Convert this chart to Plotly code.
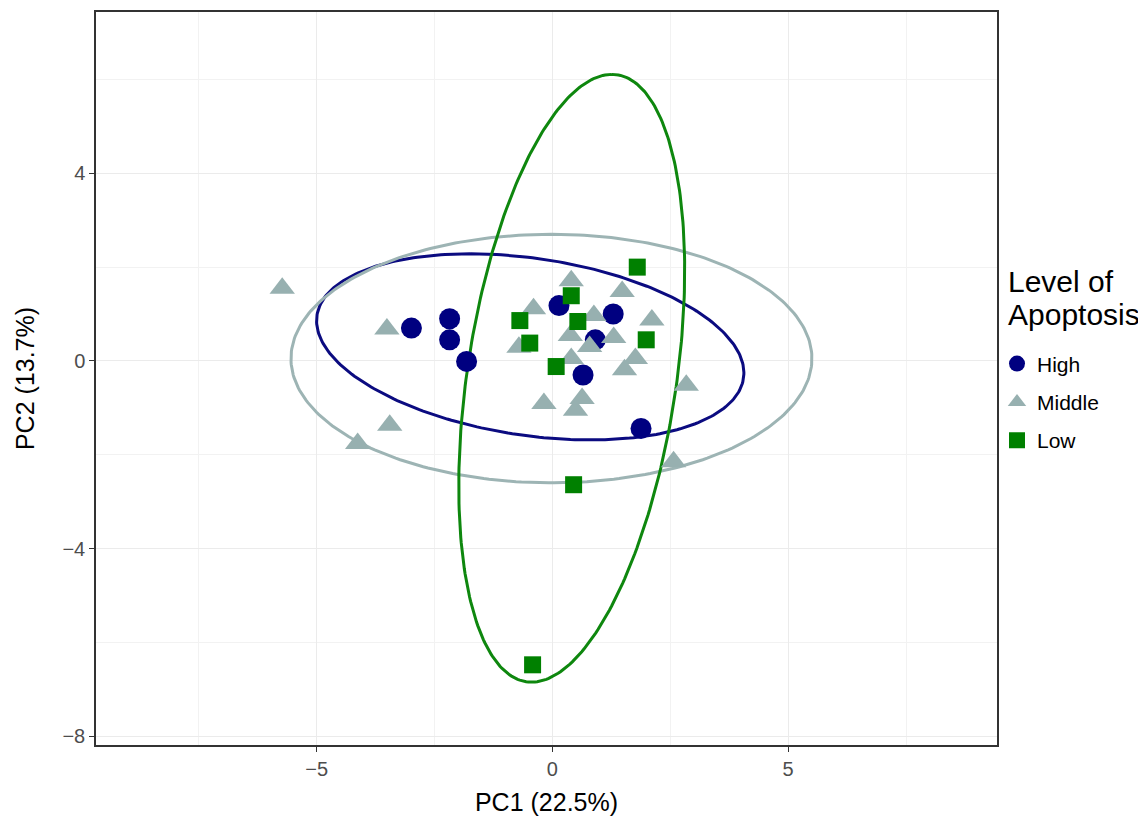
import numpy as np
import plotly.graph_objects as go

# ---- data ----
groups = ["High", "Middle", "Low"]

high_x = [-2.99, -2.18, -2.18, -1.82, 0.14, 1.29, 0.91, 0.65, 1.88]
high_y = [0.70, 0.90, 0.45, -0.01, 1.18, 1.00, 0.45, -0.30, -1.44]

middle_x = [-5.73, -3.51, -3.45, -4.13, 0.40, 1.48, -0.40, 0.88, 2.11, 0.38, 1.30,
            -0.71, 0.79, 0.40, 1.76, 1.53, 2.84, -0.18, 0.63, 0.49, 2.57]
middle_y = [1.55, 0.68, -1.37, -1.76, 1.71, 1.48, 1.11, 0.97, 0.87, 0.54, 0.50,
            0.29, 0.31, 0.05, 0.05, -0.19, -0.52, -0.91, -0.80, -1.05, -2.15]

low_x = [1.80, 0.40, -0.69, 0.54, -0.48, 1.99, 0.08, 0.45, -0.42]
low_y = [2.00, 1.39, 0.86, 0.84, 0.38, 0.45, -0.12, -2.64, -6.48]

# ellipse parameters (center, conjugate semi-diameters)
ell_high_center = [-0.47, 0.30]
ell_high_u = [-1.27, 1.985]
ell_high_v = [4.35, 0.0]

ell_mid_center = [-0.02, 0.05]
ell_mid_u = [0.0, 2.65]
ell_mid_v = [5.525, 0.0]

ell_low_center = [0.41, -0.37]
ell_low_u = [0.85, 6.48]
ell_low_v = [2.24, 0.0]

x_ticks = [-5, 0, 5]
y_ticks = [-8, -4, 0, 4]

legend_title_lines = ["Level of", "Apoptosis"]

colors = {"High": "#000080", "Middle": "#97B0B0", "Low": "#008000"}
ell_colors = {"High": "#0B0B80", "Middle": "#9DB4B4", "Low": "#0E870E"}
symbols = {"High": "circle", "Middle": "triangle-up", "Low": "square"}
sizes = {"High": 21, "Middle": 22, "Low": 17}

FONT = "Liberation Sans, Arial, sans-serif"


def ellipse(center, u, v, n=300):
    t = np.linspace(0, 2 * np.pi, n)
    c = np.array(center)
    uu = np.array(u)
    vv = np.array(v)
    pts = c[:, None] + uu[:, None] * np.cos(t) + vv[:, None] * np.sin(t)
    return pts[0], pts[1]


fig = go.Figure()

ells = {
    "High": (ell_high_center, ell_high_u, ell_high_v),
    "Middle": (ell_mid_center, ell_mid_u, ell_mid_v),
    "Low": (ell_low_center, ell_low_u, ell_low_v),
}
for g in groups:
    ex, ey = ellipse(*ells[g])
    fig.add_trace(go.Scatter(x=ex, y=ey, mode="lines",
                             line=dict(color=ell_colors[g], width=3),
                             showlegend=False, hoverinfo="skip"))

pts = {"High": (high_x, high_y), "Middle": (middle_x, middle_y), "Low": (low_x, low_y)}
for g in groups:
    px, py = pts[g]
    fig.add_trace(go.Scatter(x=px, y=py, mode="markers", name=g, legendgroup=g,
                             marker=dict(symbol=symbols[g], size=sizes[g],
                                         color=colors[g], line=dict(width=0))))

axis_common = dict(
    showline=True, mirror=True, linecolor="#333333", linewidth=1.5,
    ticks="outside", ticklen=5, tickcolor="#333333", tickwidth=1.2,
    showgrid=True, gridcolor="#EBEBEB", gridwidth=1.2,
    zeroline=False,
    tickfont=dict(family=FONT, size=20, color="#4D4D4D"),
)

fig.update_xaxes(
    range=[-9.68, 9.43], tickvals=x_ticks,
    minor=dict(dtick=2.5, tick0=0, showgrid=True, gridcolor="#F2F2F2", gridwidth=0.8, ticks=""),
    title=dict(text="PC1 (22.5%)", font=dict(family=FONT, size=25, color="#000000"), standoff=15),
    **axis_common,
)
fig.update_yaxes(
    range=[-8.19, 7.44], tickvals=y_ticks,
    minor=dict(dtick=2, tick0=0, showgrid=True, gridcolor="#F2F2F2", gridwidth=0.8, ticks=""),
    title=dict(text="PC2 (13.7%)", font=dict(family=FONT, size=25, color="#000000"), standoff=21),
    **axis_common,
)

# legend title drawn as two text lines (tighter line spacing like the reference)
title_y = [1 - (272 - 2) / 735, 1 - (305 - 2) / 735]
for line, yy in zip(legend_title_lines, title_y):
    fig.add_annotation(text=line, xref="paper", yref="paper", x=1.010, y=yy,
                       xanchor="left", yanchor="middle", showarrow=False,
                       font=dict(family=FONT, size=30, color="#000000"))

fig.update_layout(
    width=1138, height=812,
    margin=dict(l=88, r=149, t=2, b=75),
    plot_bgcolor="white", paper_bgcolor="white",
    font=dict(family=FONT),
    legend=dict(
        font=dict(family=FONT, size=21, color="#000000"),
        x=1.0, xanchor="left", y=0.468, yanchor="middle",
        bgcolor="rgba(0,0,0,0)", itemsizing="trace", tracegroupgap=8,
    ),
)

fig.write_html("out.html")
